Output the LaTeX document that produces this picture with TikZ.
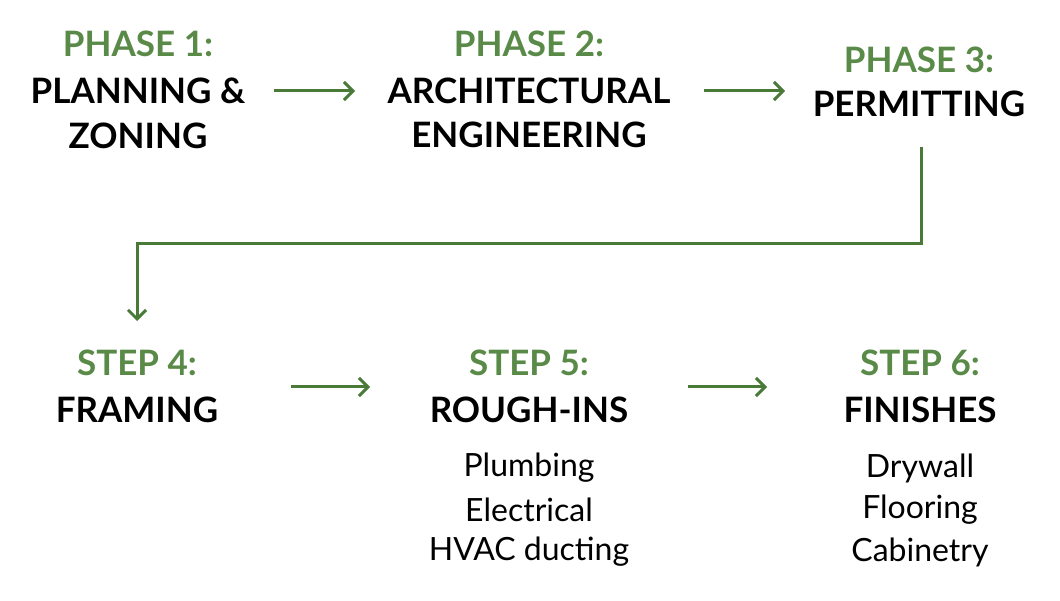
\documentclass[tikz,border=0pt]{standalone}
\usepackage{fontspec}
\setmainfont{Lato}
\usetikzlibrary{arrows.meta}
\definecolor{hd}{HTML}{5A8A48}
\definecolor{ln}{HTML}{4A7A38}
\begin{document}
\begin{tikzpicture}[x=1pt,y=-1pt,
  hdr/.style={text=hd,font=\fontsize{35}{35}\selectfont\bfseries,inner sep=0},
  ttl/.style={text=black,font=\fontsize{35}{35}\selectfont\bfseries,inner sep=0},
  sub/.style={text=black,font=\fontsize{32}{32}\selectfont,inner sep=0},
  arr/.style={draw=ln,line width=3pt,-{Straight Barb[length=9pt,width=18pt,line width=3pt]}}]
\useasboundingbox (0,0) rectangle (1060,601);
\node[hdr] (p1) at (138,44) {PHASE 1:};
\node[ttl] (p1a) at (138,91) {PLANNING \&};
\node[ttl] (p1b) at (138,136) {ZONING};
\node[hdr] (p2) at (529,44) {PHASE 2:};
\node[ttl] (p2a) at (529,91) {ARCHITECTURAL};
\node[ttl] (p2b) at (529,135) {ENGINEERING};
\node[hdr] (p3) at (919,60) {PHASE 3:};
\node[ttl] (p3a) at (919,104) {PERMITTING};
\node[hdr] (s4) at (137,363) {STEP 4:};
\node[ttl] (s4a) at (137,410) {FRAMING};
\node[hdr] (s5) at (529,363) {STEP 5:};
\node[ttl] (s5a) at (529,410) {ROUGH-INS};
\node[sub] (s5b) at (529,468) {Plumbing};
\node[sub] (s5c) at (529,510) {Electrical};
\node[sub] (s5d) at (529,552) {HVAC ducting};
\node[hdr] (s6) at (920,363) {STEP 6:};
\node[ttl] (s6a) at (920,410) {FINISHES};
\node[sub] (s6b) at (920,468) {Drywall};
\node[sub] (s6c) at (920,510) {Flooring};
\node[sub] (s6d) at (920,552) {Cabinetry};
\coordinate (a1s) at (274,91); \coordinate (a1e) at (355,91);
\coordinate (a2s) at (704,91); \coordinate (a2e) at (785,91);
\coordinate (a3s) at (291,387); \coordinate (a3e) at (370,387);
\coordinate (a4s) at (688,387); \coordinate (a4e) at (767,387);
\coordinate (cs) at (921,147); \coordinate (ce) at (137,321);
\draw[arr] (a1s) -- (a1e);
\draw[arr] (a2s) -- (a2e);
\draw[arr] (a3s) -- (a3e);
\draw[arr] (a4s) -- (a4e);
\draw[arr,line join=miter] (cs) -- (921,244) -- (137,244) -- (ce);
\end{tikzpicture}
\end{document}
